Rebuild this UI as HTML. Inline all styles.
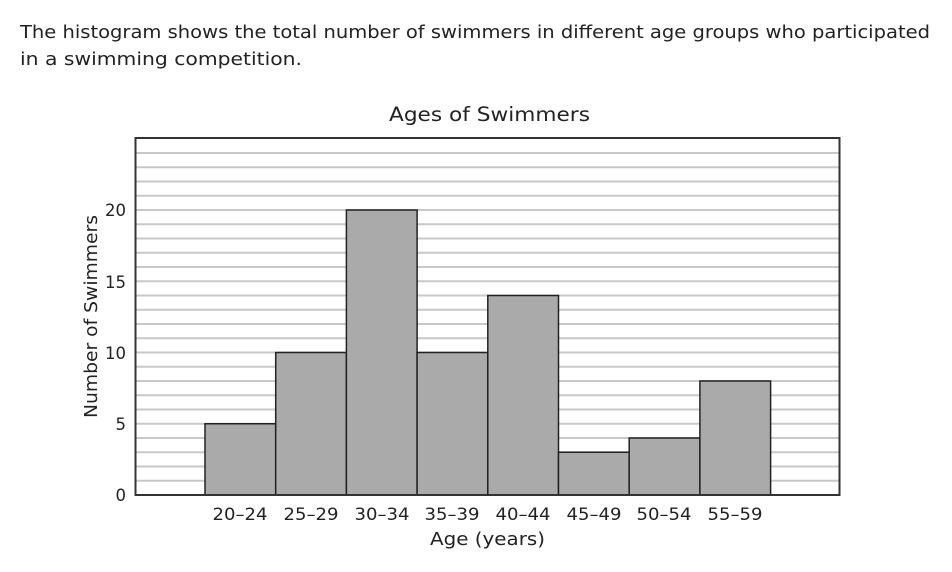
<!DOCTYPE html>
<html><head><meta charset="utf-8"><style>
body{margin:0;background:#fff;width:952px;height:568px;overflow:hidden;font-family:"DejaVu Sans","Liberation Sans",sans-serif;}
</style></head><body>
<svg width="952" height="568" xmlns="http://www.w3.org/2000/svg" font-family="DejaVu Sans, Liberation Sans, sans-serif" fill="#222">
<text x="20" y="38" font-size="18" textLength="910" lengthAdjust="spacingAndGlyphs">The histogram shows the total number of swimmers in different age groups who participated</text>
<text x="20" y="65" font-size="18" textLength="282" lengthAdjust="spacingAndGlyphs">in a swimming competition.</text>
<text x="389" y="121" font-size="19.5" textLength="201" lengthAdjust="spacingAndGlyphs">Ages of Swimmers</text>
<g stroke="#c8c8c8" stroke-width="2">
<line x1="136" x2="839" y1="480.75" y2="480.75"/><line x1="136" x2="839" y1="466.5" y2="466.5"/><line x1="136" x2="839" y1="452.25" y2="452.25"/><line x1="136" x2="839" y1="438" y2="438"/><line x1="136" x2="839" y1="423.75" y2="423.75"/><line x1="136" x2="839" y1="409.5" y2="409.5"/><line x1="136" x2="839" y1="395.25" y2="395.25"/><line x1="136" x2="839" y1="381" y2="381"/><line x1="136" x2="839" y1="366.75" y2="366.75"/><line x1="136" x2="839" y1="352.5" y2="352.5"/><line x1="136" x2="839" y1="338.25" y2="338.25"/><line x1="136" x2="839" y1="324" y2="324"/><line x1="136" x2="839" y1="309.75" y2="309.75"/><line x1="136" x2="839" y1="295.5" y2="295.5"/><line x1="136" x2="839" y1="281.25" y2="281.25"/><line x1="136" x2="839" y1="267" y2="267"/><line x1="136" x2="839" y1="252.75" y2="252.75"/><line x1="136" x2="839" y1="238.5" y2="238.5"/><line x1="136" x2="839" y1="224.25" y2="224.25"/><line x1="136" x2="839" y1="210" y2="210"/><line x1="136" x2="839" y1="195.75" y2="195.75"/><line x1="136" x2="839" y1="181.5" y2="181.5"/><line x1="136" x2="839" y1="167.25" y2="167.25"/><line x1="136" x2="839" y1="153" y2="153"/>
</g>
<g fill="#aaaaaa" stroke="#222" stroke-width="1.5">
<rect x="205" y="423.75" width="70.7" height="71.25"/>
<rect x="275.7" y="352.5" width="70.7" height="142.5"/>
<rect x="346.4" y="210" width="70.7" height="285"/>
<rect x="417.1" y="352.5" width="70.7" height="142.5"/>
<rect x="487.8" y="295.5" width="70.7" height="199.5"/>
<rect x="558.5" y="452.25" width="70.7" height="42.75"/>
<rect x="629.2" y="438" width="70.7" height="57"/>
<rect x="699.9" y="381" width="70.7" height="114"/>
</g>
<rect x="135.5" y="138" width="704" height="357" fill="none" stroke="#333" stroke-width="2"/>
<g font-size="16.5" text-anchor="end">
<text x="126" y="501">0</text><text x="126" y="430">5</text><text x="126" y="359">10</text><text x="126" y="288">15</text><text x="126" y="216">20</text>
</g>
<g font-size="16.5" text-anchor="middle">
<text x="240" y="520" textLength="55" lengthAdjust="spacingAndGlyphs">20–24</text><text x="311" y="520" textLength="55" lengthAdjust="spacingAndGlyphs">25–29</text><text x="382" y="520" textLength="55" lengthAdjust="spacingAndGlyphs">30–34</text><text x="452" y="520" textLength="55" lengthAdjust="spacingAndGlyphs">35–39</text><text x="523" y="520" textLength="55" lengthAdjust="spacingAndGlyphs">40–44</text><text x="594" y="520" textLength="55" lengthAdjust="spacingAndGlyphs">45–49</text><text x="664" y="520" textLength="55" lengthAdjust="spacingAndGlyphs">50–54</text><text x="735" y="520" textLength="55" lengthAdjust="spacingAndGlyphs">55–59</text>
</g>
<text x="430" y="545" font-size="17.5" textLength="115" lengthAdjust="spacingAndGlyphs">Age (years)</text>
<text transform="translate(97,418) rotate(-90)" font-size="17.5" textLength="203" lengthAdjust="spacingAndGlyphs">Number of Swimmers</text>
</svg>
</body></html>
